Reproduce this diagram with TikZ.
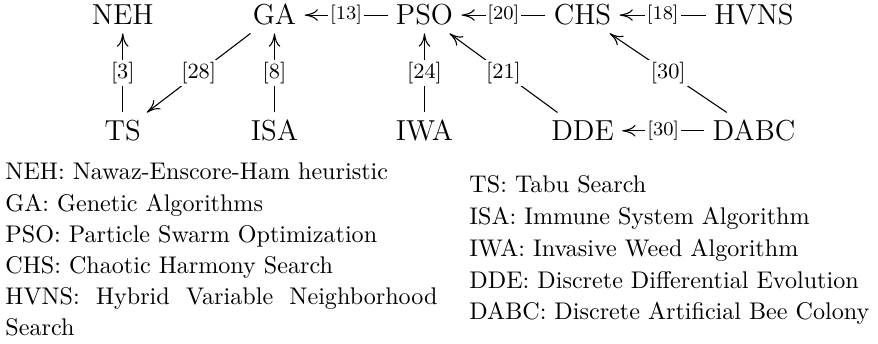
\documentclass[tikz,border=0pt]{standalone}
\usetikzlibrary{arrows.meta}
\begin{document}
\begin{tikzpicture}[x=0.415pt,y=-0.415pt,
  nd/.style={font=\large, inner sep=3.3pt, text height=8.2pt, text depth=0pt, anchor=base},
  arr/.style={line width=0.45pt, -{To[length=5.5pt,width=4.8pt]}},
  lab/.style={midway, fill=white, inner sep=1pt, font=\small},
  hlab/.style={midway, fill=white, inner sep=0.8pt, font=\footnotesize},
  leg/.style={anchor=base west, inner sep=0pt}]
\useasboundingbox (0,0) rectangle (878,344);
% nodes
\node[nd] (NEH)  at (122.8,25) {NEH};
\node[nd] (GA)   at (274.5,25) {GA};
\node[nd] (PSO)  at (424.5,25) {PSO};
\node[nd] (CHS)  at (582.5,25) {CHS};
\node[nd] (HVNS) at (754,25) {HVNS};
\node[nd] (TS)   at (122.8,140.7) {TS};
\node[nd] (ISA)  at (274.5,140.7) {ISA};
\node[nd] (IWA)  at (424.5,140.7) {IWA};
\node[nd] (DDE)  at (582.5,140.7) {DDE};
\node[nd] (DABC) at (754,140.7) {DABC};
% edges
\draw[arr] (TS) -- node[lab]{[3]} (NEH);
\draw[arr] (GA) -- node[lab]{[28]} (TS);
\draw[arr] (ISA) -- node[lab]{[8]} (GA);
\draw[arr] (PSO) -- node[hlab]{[13]} (GA);
\draw[arr] (IWA) -- node[lab]{[24]} (PSO);
\draw[arr] (CHS) -- node[hlab]{[20]} (PSO);
\draw[arr] (DDE) -- node[lab]{[21]} (PSO);
\draw[arr] (HVNS) -- node[hlab]{[18]} (CHS);
\draw[arr] (DABC) -- node[lab]{[30]} (CHS);
\draw[arr] (DABC) -- node[hlab]{[30]} (DDE);
% legend left
\node[leg] (l1) at (5,180)   {NEH: Nawaz-Enscore-Ham heuristic};
\node[leg] (l2) at (5,211.2) {GA: Genetic Algorithms};
\node[leg] (l3) at (5,242.4) {PSO: Particle Swarm Optimization};
\node[leg] (l4) at (5,273.6) {CHS: Chaotic Harmony Search};
\node[leg] (l5) at (5,304.8) {\makebox[179.3pt][s]{HVNS: Hybrid Variable Neighborhood}};
\node[leg] (l6) at (5,336)   {Search};
% legend right
\node[leg] (r1) at (469,193)   {TS: Tabu Search};
\node[leg] (r2) at (469,224.8) {ISA: Immune System Algorithm};
\node[leg] (r3) at (469,256.5) {IWA: Invasive Weed Algorithm};
\node[leg] (r4) at (469,288.2) {DDE: Discrete Differential Evolution};
\node[leg] (r5) at (469,320)   {DABC: Discrete Artificial Bee Colony};
\end{tikzpicture}
\end{document}
